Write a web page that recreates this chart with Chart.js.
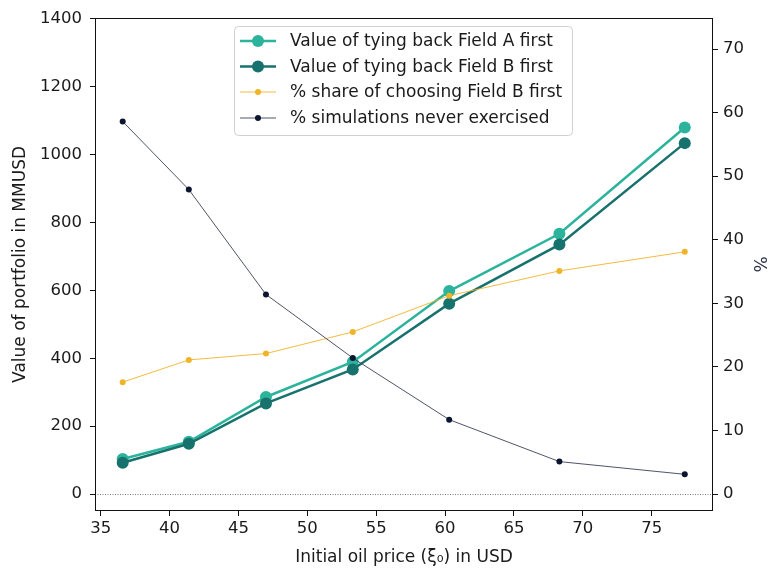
<!DOCTYPE html>
<html>
<head>
<meta charset="utf-8">
<script src="https://cdn.jsdelivr.net/npm/chart.js@4.4.1/dist/chart.umd.min.js"></script>
<style>
  html, body { margin: 0; padding: 0; background: #fff; }
  canvas { display: block; }
</style>
</head>
<body>
<canvas id="c" width="769" height="569"></canvas>
<script>
// ---- Data ----
const oilPrice = [36.6, 41.4, 47.0, 53.3, 60.3, 68.3, 77.4];
const valueFieldAFirst = [103, 154, 286, 389, 598, 767, 1080];
const valueFieldBFirst = [92, 148, 267, 367, 561, 735, 1034];
const shareFieldBFirst = [17.6, 21.1, 22.1, 25.5, 31.2, 35.1, 38.1];
const neverExercised = [58.6, 47.9, 31.4, 21.4, 11.7, 5.1, 3.1];

const xTicks = [35, 40, 45, 50, 55, 60, 65, 70, 75];
const leftTicks = [0, 200, 400, 600, 800, 1000, 1200, 1400];
const rightTicks = [0, 10, 20, 30, 40, 50, 60, 70];

const labels = [
  'Value of tying back Field A first',
  'Value of tying back Field B first',
  '% share of choosing Field B first',
  '% simulations never exercised'
];

const colA = '#2bb39b';
const colB = '#17716d';
const colY = '#f0b429';
const colK = '#0c1530';
const colKLine = '#3c4157';

function pts(ys) { return oilPrice.map((x, i) => ({ x: x, y: ys[i] })); }

const FONT = "'DejaVu Sans', sans-serif";
Chart.defaults.font.family = FONT;
Chart.defaults.font.size = 16.5;
Chart.defaults.color = '#1a1a1a';

const fixTicks = arr => scale => { scale.ticks = arr.map(v => ({ value: v })); };
const plain = v => String(v);

const framePlugin = {
  id: 'frame',
  beforeDatasetsDraw(chart) {
    const { ctx, chartArea: a } = chart;
    const y0 = Math.round(chart.scales.y.getPixelForValue(0)) + 0.5;
    ctx.save();
    ctx.strokeStyle = '#555';
    ctx.lineWidth = 0.8;
    ctx.setLineDash([1, 1.5]);
    ctx.beginPath();
    ctx.moveTo(a.left, y0);
    ctx.lineTo(a.right, y0);
    ctx.stroke();
    ctx.restore();
  },
  afterDraw(chart) {
    const { ctx, chartArea: a } = chart;
    ctx.save();
    ctx.strokeStyle = '#111';
    ctx.lineWidth = 1;
    ctx.strokeRect(Math.round(a.left) + 0.5, Math.round(a.top) + 0.5,
                   Math.round(a.right - a.left) - 1, Math.round(a.bottom - a.top) - 1);
    // legend
    const bx = 234, by = 26, bw = 338, bh = 109, r = 4;
    ctx.globalAlpha = 0.8;
    ctx.fillStyle = '#fff';
    ctx.beginPath();
    ctx.roundRect(bx + 0.5, by + 0.5, bw, bh, r);
    ctx.fill();
    ctx.globalAlpha = 1;
    ctx.strokeStyle = '#d0d0d0';
    ctx.lineWidth = 1;
    ctx.stroke();
    const rowsY = [41, 66.5, 92, 118];
    chart.data.datasets.forEach((ds, i) => {
      const y = rowsY[i];
      ctx.strokeStyle = ds.borderColor;
      ctx.lineWidth = ds.borderWidth;
      ctx.beginPath();
      ctx.moveTo(240, y);
      ctx.lineTo(276, y);
      ctx.stroke();
      ctx.fillStyle = ds.pointBackgroundColor;
      ctx.beginPath();
      ctx.arc(258, y, ds.pointRadius, 0, Math.PI * 2);
      ctx.fill();
      ctx.fillStyle = '#1a1a1a';
      ctx.font = '17px ' + FONT;
      ctx.textBaseline = 'middle';
      ctx.textAlign = 'left';
      ctx.fillText(labels[i], 290, y + 1);
    });
    ctx.restore();
  }
};

new Chart(document.getElementById('c'), {
  type: 'line',
  data: {
    datasets: [
      { label: labels[0], data: pts(valueFieldAFirst), yAxisID: 'y', order: 4,
        borderColor: colA, backgroundColor: colA, pointBackgroundColor: colA,
        pointBorderWidth: 0, borderWidth: 2.5, pointRadius: 6 },
      { label: labels[1], data: pts(valueFieldBFirst), yAxisID: 'y', order: 3,
        borderColor: colB, backgroundColor: colB, pointBackgroundColor: colB,
        pointBorderWidth: 0, borderWidth: 2.5, pointRadius: 6 },
      { label: labels[2], data: pts(shareFieldBFirst), yAxisID: 'y1', order: 2,
        borderColor: colY, backgroundColor: colY, pointBackgroundColor: colY,
        pointBorderWidth: 0, borderWidth: 0.9, pointRadius: 3 },
      { label: labels[3], data: pts(neverExercised), yAxisID: 'y1', order: 1,
        borderColor: colKLine, backgroundColor: colK, pointBackgroundColor: colK,
        pointBorderWidth: 0, borderWidth: 0.9, pointRadius: 3 }
    ]
  },
  options: {
    responsive: false,
    animation: false,
    devicePixelRatio: 1,
    layout: { padding: { top: 17, left: 0, right: 0, bottom: 0 } },
    plugins: { legend: { display: false }, tooltip: { enabled: false } },
    elements: { line: { tension: 0 } },
    scales: {
      x: {
        type: 'linear', min: 34.59, max: 79.45,
        afterBuildTicks: fixTicks(xTicks),
        afterFit: s => { s.height = 58; },
        grid: { drawOnChartArea: false, tickLength: 5, tickColor: '#111', tickWidth: 1 },
        border: { display: false },
        ticks: { padding: 3, color: '#1a1a1a', maxRotation: 0, callback: plain },
        title: { display: true, text: 'Initial oil price (ξ₀) in USD', color: '#1a1a1a',
                 font: { size: 17 }, padding: { top: 2, bottom: 1 } }
      },
      y: {
        type: 'linear', position: 'left', min: -50, max: 1403,
        afterBuildTicks: fixTicks(leftTicks),
        afterFit: s => { s.width = 95; },
        grid: { drawOnChartArea: false, tickLength: 5, tickColor: '#111', tickWidth: 1 },
        border: { display: false },
        ticks: { padding: 8, color: '#1a1a1a', callback: plain },
        title: { display: true, text: 'Value of portfolio in MMUSD', color: '#1a1a1a',
                 font: { size: 17 }, padding: { top: 10, bottom: 0 } }
      },
      y1: {
        type: 'linear', position: 'right', min: -2.67, max: 74.9,
        afterBuildTicks: fixTicks(rightTicks),
        afterFit: s => { s.width = 56; },
        grid: { drawOnChartArea: false, tickLength: 5, tickColor: '#111', tickWidth: 1 },
        border: { display: false },
        ticks: { padding: 5, color: '#1a1a1a', callback: plain },
        title: { display: true, text: '%', color: '#2d3348',
                 font: { size: 17 }, padding: { top: 0, bottom: 0 } }
      }
    }
  },
  plugins: [framePlugin]
});
</script>
</body>
</html>
